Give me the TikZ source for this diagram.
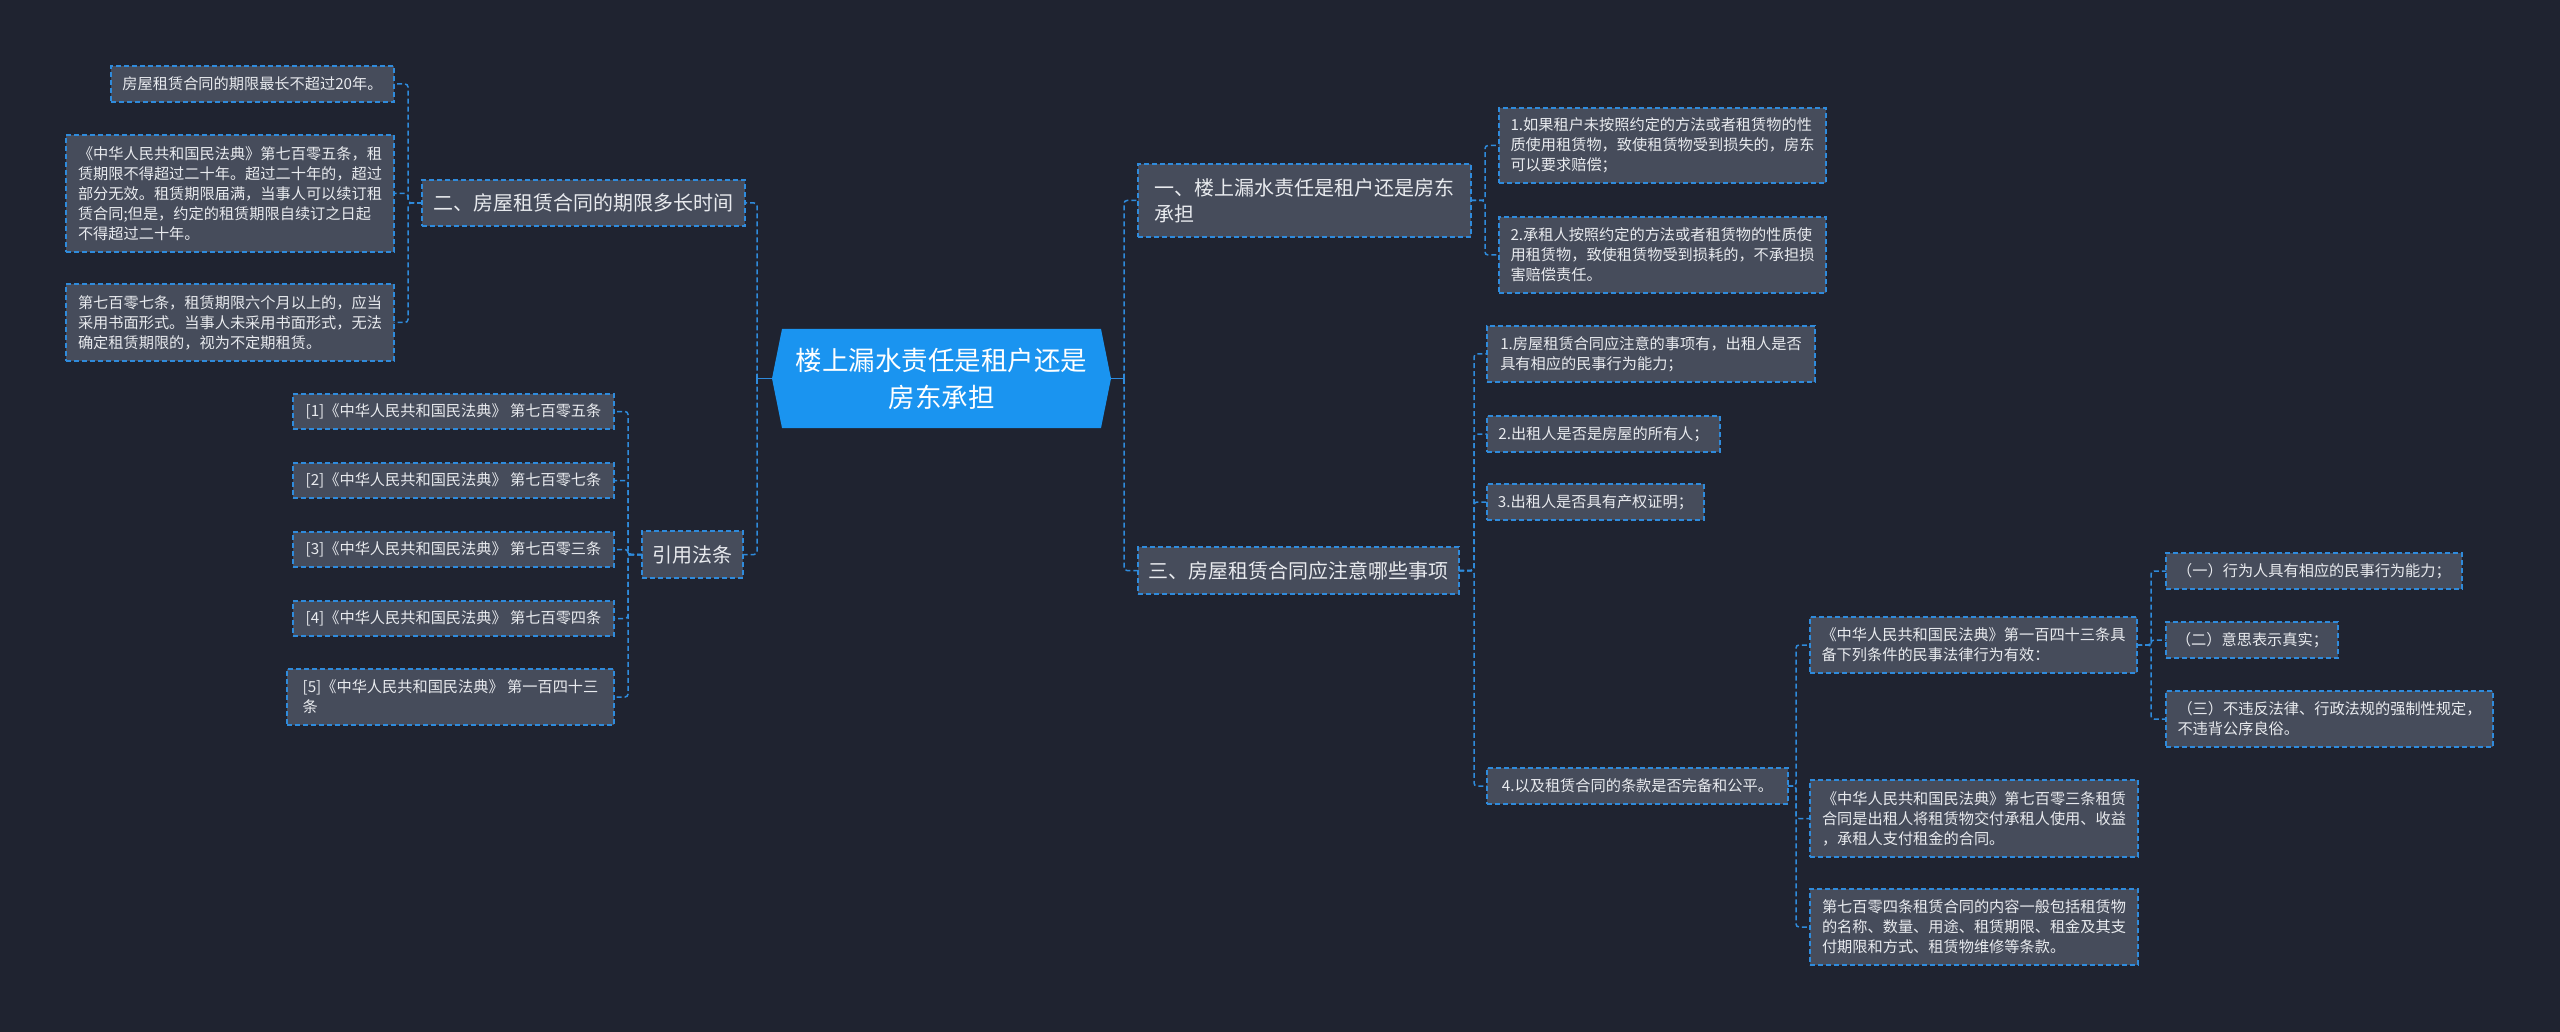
\documentclass[tikz,border=0pt]{standalone}
\usepackage{fontspec}
\setmainfont{Noto Sans CJK SC}
\usetikzlibrary{calc}
\definecolor{bg}{HTML}{1F2330}
\definecolor{nodefill}{HTML}{464C5B}
\definecolor{lineblue}{HTML}{2F8BDC}
\definecolor{rootblue}{HTML}{1A94F0}
\definecolor{txt}{HTML}{E8EAEE}
\tikzset{
  boxbase/.style={draw=lineblue, line width=1.5pt, dash pattern=on 5pt off 3pt,
    fill=nodefill, text=txt, inner sep=0pt, outer sep=0pt, align=left},
  leaf/.style={boxbase, font=\fontsize{15.2}{20}\selectfont},
  lvlone/.style={boxbase, font=\fontsize{20}{26}\selectfont},
  roottext/.style={inner sep=0pt, outer sep=0pt, align=center, text=white,
    font=\fontsize{26.5}{37}\selectfont},
  conn/.style={draw=lineblue, line width=1.5pt, dash pattern=on 5pt off 3pt, rounded corners=3pt},
  stub/.style={draw=lineblue, line width=1.5pt}
}
\newcommand\bx[7]{\node[#1, minimum width={#5-#3}, minimum height={#6-#4}] (#2) at ({(#3+#5)/2},{(#4+#6)/2}) {#7};}
\begin{document}
\begin{tikzpicture}[x=1pt,y=-1pt]
\fill[bg] (0,0) rectangle (2560,1032);
\useasboundingbox (0,0) rectangle (2560,1032);

% root
\fill[rootblue] (782,329) -- (1101,329) -- (1111,378.5) -- (1101,428) -- (782,428) -- (772,378.5) -- cycle;
\node[roottext] (root) at (941.5,378.5) {楼上漏水责任是租户还是\\房东承担};
\coordinate (rootW) at (772,378.5);
\coordinate (rootE) at (1111,378.5);

% bus coordinates
\coordinate (busL) at (757,0);
\coordinate (busR) at (1124,0);
\coordinate (busA) at (408,0);
\coordinate (busRef) at (628,0);
\coordinate (busB) at (1485,0);
\coordinate (busC) at (1474,0);
\coordinate (busD) at (1796,0);
\coordinate (busE) at (2151,0);

% left side
\bx{lvlone}{n2}{422}{180}{745}{226}{二、房屋租赁合同的期限多长时间}
\bx{leaf}{a1}{111}{66}{394}{102}{房屋租赁合同的期限最长不超过20年。}
\bx{leaf}{a2}{66}{135}{394}{252}{《中华人民共和国民法典》第七百零五条，租\\赁期限不得超过二十年。超过二十年的，超过\\部分无效。租赁期限届满，当事人可以续订租\\赁合同;但是，约定的租赁期限自续订之日起\\不得超过二十年。}
\bx{leaf}{a3}{66}{284}{394}{361}{第七百零七条，租赁期限六个月以上的，应当\\采用书面形式。当事人未采用书面形式，无法\\确定租赁期限的，视为不定期租赁。}

\bx{lvlone}{ref}{642}{531}{743}{578}{引用法条}
\bx{leaf}{r1}{293}{394}{614}{429}{[1]《中华人民共和国民法典》 第七百零五条}
\bx{leaf}{r2}{293}{463}{614}{498}{[2]《中华人民共和国民法典》 第七百零七条}
\bx{leaf}{r3}{293}{532}{614}{567}{[3]《中华人民共和国民法典》 第七百零三条}
\bx{leaf}{r4}{293}{601}{614}{636}{[4]《中华人民共和国民法典》 第七百零四条}
\bx{leaf}{r5}{287}{669}{614}{725}{[5]《中华人民共和国民法典》 第一百四十三\\条}

% right side
\bx{lvlone}{n1}{1138}{164}{1471}{237}{一、楼上漏水责任是租户还是房东\\承担}
\bx{leaf}{b1}{1499}{108}{1826}{183}{1.如果租户未按照约定的方法或者租赁物的性\\质使用租赁物，致使租赁物受到损失的，房东\\可以要求赔偿；}
\bx{leaf}{b2}{1499}{217}{1826}{293}{2.承租人按照约定的方法或者租赁物的性质使\\用租赁物，致使租赁物受到损耗的，不承担损\\害赔偿责任。}

\bx{lvlone}{n3}{1138}{547}{1459}{594}{三、房屋租赁合同应注意哪些事项}
\bx{leaf}{c1}{1487}{326}{1815}{382}{1.房屋租赁合同应注意的事项有，出租人是否\\具有相应的民事行为能力；}
\bx{leaf}{c2}{1487}{416}{1720}{452}{2.出租人是否是房屋的所有人；}
\bx{leaf}{c3}{1487}{484}{1704}{520}{3.出租人是否具有产权证明；}
\bx{leaf}{c4}{1487}{768}{1788}{804}{4.以及租赁合同的条款是否完备和公平。}

\bx{leaf}{d1}{1810}{617}{2137}{673}{《中华人民共和国民法典》第一百四十三条具\\备下列条件的民事法律行为有效：}
\bx{leaf}{d2}{1810}{780}{2138}{857}{《中华人民共和国民法典》第七百零三条租赁\\合同是出租人将租赁物交付承租人使用、收益\\，承租人支付租金的合同。}
\bx{leaf}{d3}{1810}{889}{2138}{965}{第七百零四条租赁合同的内容一般包括租赁物\\的名称、数量、用途、租赁期限、租金及其支\\付期限和方式、租赁物维修等条款。}

\bx{leaf}{e1}{2166}{553}{2462}{589}{（一）行为人具有相应的民事行为能力；}
\bx{leaf}{e2}{2166}{622}{2338}{658}{（二）意思表示真实；}
\bx{leaf}{e3}{2166}{691}{2493}{747}{（三）不违反法律、行政法规的强制性规定，\\不违背公序良俗。}

% root connectors
\draw[stub] (rootW) -- (rootW -| busL);
\draw[stub] ($(rootW -| busL)+(0,-5)$) -- ++(0,10);
\draw[stub] (rootE) -- (rootE -| busR);
\draw[stub] ($(rootE -| busR)+(0,-5)$) -- ++(0,10);
\draw[conn] (rootW -| busL) |- (n2.east);
\draw[conn] (rootW -| busL) |- (ref.east);
\draw[conn] (rootE -| busR) |- (n1.west);
\draw[conn] (rootE -| busR) |- (n3.west);

% left children
\foreach \c in {a1,a2,a3} \draw[conn] (n2.west) -- (n2.west -| busA) |- (\c.east);
\foreach \c in {r1,r2,r3,r4,r5} \draw[conn] (ref.west) -- (ref.west -| busRef) |- (\c.east);

% right children
\foreach \c in {b1,b2} \draw[conn] (n1.east) -- (n1.east -| busB) |- (\c.west);
\foreach \c in {c1,c2,c3,c4} \draw[conn] (n3.east) -- (n3.east -| busC) |- (\c.west);
\foreach \c in {d1,d2,d3} \draw[conn] (c4.east) -- (c4.east -| busD) |- (\c.west);
\foreach \c in {e1,e2,e3} \draw[conn] (d1.east) -- (d1.east -| busE) |- (\c.west);
\end{tikzpicture}
\end{document}
